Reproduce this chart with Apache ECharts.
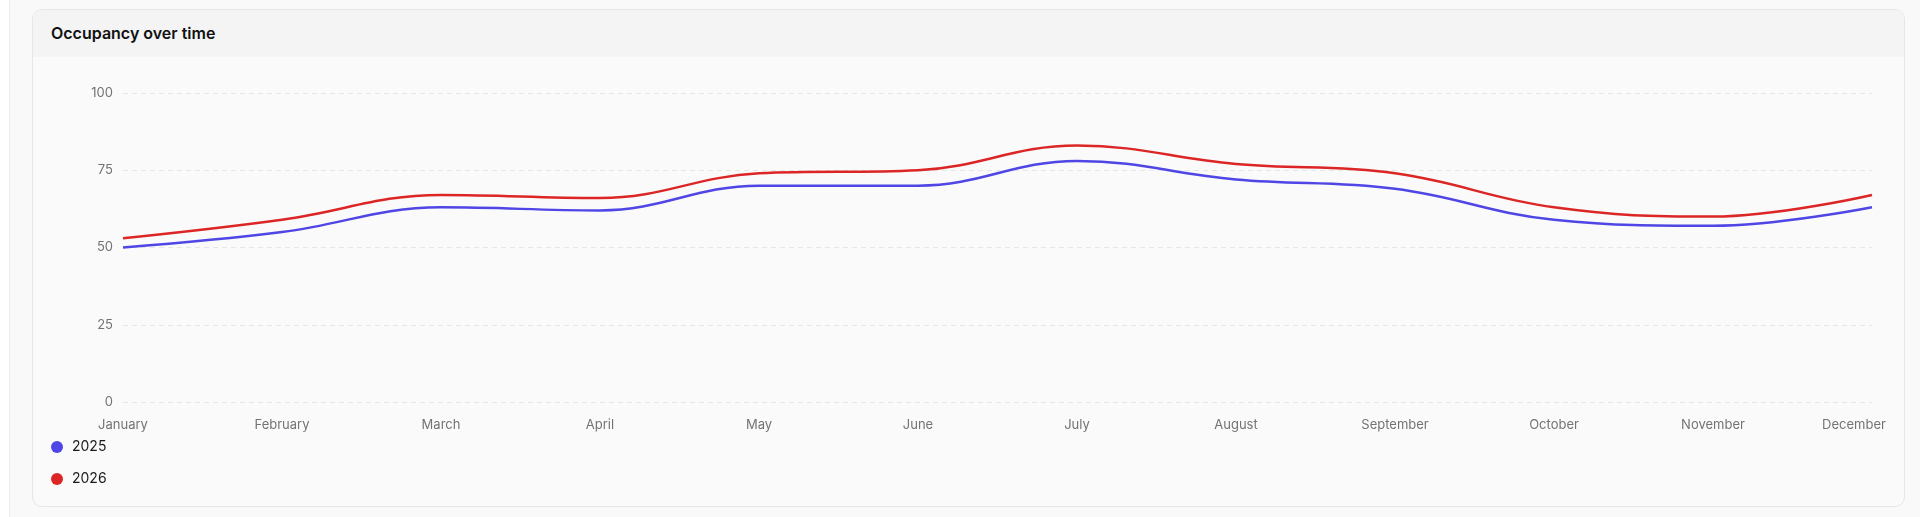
<!DOCTYPE html>
<html>
<head>
  <meta charset="UTF-8">
  <title>Occupancy over time</title>
  <style>
    html, body {
      margin: 0;
      padding: 0;
      width: 1920px;
      height: 517px;
      overflow: hidden;
      background: #fff;
      font-family: Inter, "Noto Sans", sans-serif;
    }
    .page {
      position: absolute;
      left: 9px;
      top: 0;
      right: 0;
      bottom: 0;
      background: #f9f9f9;
      border-left: 1px solid #ececec;
    }
    .card {
      position: absolute;
      left: 32px;
      top: 9px;
      width: 1871px;
      height: 496px;
      background: #fafafa;
      border: 1px solid #e6e6e6;
      border-radius: 10px;
      overflow: hidden;
    }
    .card-head {
      height: 47px;
      line-height: 47px;
      background: #f4f4f4;
      padding-left: 18px;
      font-size: 16px;
      font-weight: 600;
      color: #111;
    }
    #chart {
      width: 1871px;
      height: 449px;
    }
  </style>
  <script src="https://cdn.jsdelivr.net/npm/echarts@6/dist/echarts.min.js"></script>
</head>
<body>
  <div class="page"></div>
  <div class="card">
    <div class="card-head">Occupancy over time</div>
    <div id="chart"></div>
  </div>

  <script>
    var months = ['January', 'February', 'March', 'April', 'May', 'June',
                  'July', 'August', 'September', 'October', 'November', 'December'];
    var occ2025 = [50, 55, 63, 62, 70, 70, 78, 72, 69, 59, 57, 63];
    var occ2026 = [53, 59, 67, 66, 74, 75, 83, 77, 74, 63, 60, 67];
    var seriesNames = ['2025', '2026'];

    var myChart = echarts.init(document.getElementById('chart'));

    var option = {
      backgroundColor: 'transparent',
      textStyle: { fontFamily: 'Inter' },
      grid: {
        left: 90,
        right: 32,
        top: 36,
        height: 309
      },
      legend: {
        orient: 'vertical',
        left: 13,
        top: 378,
        icon: 'circle',
        itemWidth: 12,
        itemHeight: 12,
        itemGap: 18,
        data: seriesNames,
        textStyle: {
          fontSize: 14,
          color: '#1a1a1a',
          padding: [0, 0, 0, 4]
        }
      },
      xAxis: {
        type: 'category',
        data: months,
        boundaryGap: false,
        axisLine: { show: false },
        axisTick: { show: false },
        axisLabel: {
          color: '#737373',
          fontSize: 13,
          margin: 17,
          formatter: function (v) {
            // the last label is pushed back inside the card
            return v === 'December' ? '{d|' + v + '}' : v;
          },
          rich: {
            d: { color: '#737373', fontSize: 13, padding: [0, 36, 0, 0] }
          }
        }
      },
      yAxis: {
        type: 'value',
        min: 0,
        max: 100,
        interval: 25,
        axisLine: { show: false },
        axisTick: { show: false },
        axisLabel: { color: '#737373', fontSize: 13, margin: 10 },
        splitLine: {
          lineStyle: { color: '#e6e6e6', type: [5, 4], width: 1 }
        }
      },
      series: [
        {
          name: '2025',
          type: 'line',
          data: occ2025,
          smooth: 0.4,
          symbol: 'none',
          itemStyle: { color: '#4f46e5' },
          lineStyle: { color: '#4f46e5', width: 2.5 }
        },
        {
          name: '2026',
          type: 'line',
          data: occ2026,
          smooth: 0.4,
          symbol: 'none',
          itemStyle: { color: '#dc2626' },
          lineStyle: { color: '#dc2626', width: 2.5 }
        }
      ]
    };

    myChart.setOption(option);
  </script>
</body>
</html>
